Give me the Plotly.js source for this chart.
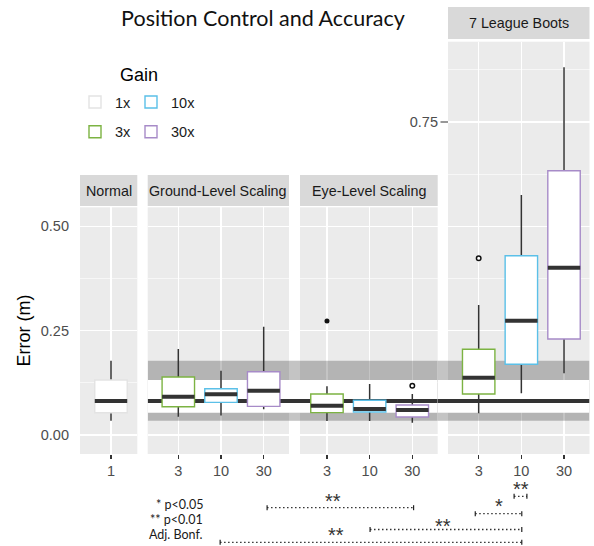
<!DOCTYPE html>
<html><head><meta charset="utf-8">
<script src="https://cdn.plot.ly/plotly-3.0.1.min.js"></script>
<style>html,body{margin:0;padding:0;background:#fff}</style>
</head><body><div id="chart" style="width:594px;height:546px"></div>
<script>
// ---------- data ----------
const panels = ['Normal', 'Ground-Level Scaling', 'Eye-Level Scaling', '7 League Boots'];
const panelCats = [['1'], ['3', '10', '30'], ['3', '10', '30'], ['3', '10', '30']];
const gains = ['1x', '3x', '10x', '30x'];
// one entry per box
const boxPanel = [0, 1, 1, 1, 2, 2, 2, 3, 3, 3];
const boxCat   = [0, 0, 1, 2, 0, 1, 2, 0, 1, 2];
const boxGain  = [0, 1, 2, 3, 1, 2, 3, 1, 2, 3];
const lowerW = [0.034, 0.044, 0.047, 0.0615, 0.0335, 0.0335, 0.0295, 0.052, 0.100, 0.148];
const q1     = [0.0534, 0.0678, 0.0783, 0.0687, 0.0535, 0.0551, 0.0431, 0.0983, 0.1694, 0.230];
const med    = [0.0815, 0.0918, 0.0975, 0.106, 0.0703, 0.0623, 0.060, 0.1374, 0.274, 0.401];
const q3     = [0.1318, 0.139, 0.111, 0.1517, 0.0983, 0.0831, 0.0719, 0.2054, 0.4297, 0.6334];
const upperW = [0.178, 0.206, 0.154, 0.2596, 0.1166, 0.122, 0.098, 0.3115, 0.575, 0.881];
// outliers
const outPanel = [2, 2, 3];
const outCat   = [0, 2, 0];
const outVal   = [0.273, 0.118, 0.4234];
// pairwise comparisons (panel, category position)
const compLabel = ['**', '**', '**', '*', '**'];
const compFrom  = [[1, 2.08], [2, 1.01], [1, 0.98], [3, -0.08], [3, 0.83]];
const compTo    = [[2, 2.03], [3, 1.01], [3, 1.01], [3, 1.01], [3, 1.13]];
const legendNotes = ['* p<0.05', '** p<0.01', 'Adj. Bonf.'];

// ---------- styles / geometry ----------
const W = 594, H = 546;
const gainColors = ['#e3e3e3', '#7cb342', '#5bc0e8', '#a78bc8'];
const outFilled = [true, false, false];
const panelX = [[80, 137.3], [147.7, 289], [300, 437.7], [448, 589.5]];
const panelTop = [207.3, 207.3, 207.3, 41.7];
const panelBottom = 454;
const stripY = [[175, 206], [175, 206], [175, 206], [7, 39]];
const xRanges = [[-0.726, 0.616], [-0.717, 2.593], [-0.632, 2.595], [-0.719, 2.597]];
const yPx0 = 435, yPxPerUnit = 417.3;
const compLineY = [507.7, 529.5, 542.3, 513.7, 496.3];
const compLabelX = [333, 443, 336, 499, 521];
const compLabelY = [497, 522, 531, 502, 485];
const px = x => x / W;
const py = y => 1 - y / H;
const sfx = i => (i === 0 ? '' : String(i + 1));
const catPx = (p, c) => panelX[p][0] + (c - xRanges[p][0]) / (xRanges[p][1] - xRanges[p][0]) * (panelX[p][1] - panelX[p][0]);

const tickFont = {family: 'Liberation Sans, Arial, sans-serif', size: 14.5, color: '#4d4d4d'};
const layout = {
  width: W, height: H, autosize: false,
  margin: {l: 0, r: 0, t: 0, b: 0},
  paper_bgcolor: '#ffffff', plot_bgcolor: '#ebebeb',
  boxmode: 'overlay',
  title: {text: 'Position Control and Accuracy', x: px(263), xanchor: 'center', xref: 'paper',
          y: py(18), yanchor: 'middle', yref: 'paper',
          font: {family: 'Lato, Open Sans, sans-serif', size: 21.5, color: '#111'}},
  legend: {x: px(75), xanchor: 'left', y: py(86), yanchor: 'top', bgcolor: 'rgba(0,0,0,0)',
           font: {family: 'Liberation Sans, Arial, sans-serif', size: 14.5, color: '#1a1a1a'}, tracegroupgap: 8},
  legend2: {x: px(131), xanchor: 'left', y: py(86), yanchor: 'top', bgcolor: 'rgba(0,0,0,0)',
            font: {family: 'Liberation Sans, Arial, sans-serif', size: 14.5, color: '#1a1a1a'}, tracegroupgap: 8},
  shapes: [], annotations: []
};

for (let i = 0; i < 4; i++) {
  const yr = [(yPx0 - panelBottom) / yPxPerUnit, (yPx0 - panelTop[i]) / yPxPerUnit];
  const majors = [0, 0.25, 0.5, 0.75].filter(v => v <= yr[1]);
  const minors = [0.125, 0.375, 0.625, 0.875].filter(v => v <= yr[1]);
  layout['xaxis' + sfx(i)] = {
    domain: [px(panelX[i][0]), px(panelX[i][1])], anchor: 'y' + sfx(i), range: xRanges[i],
    tickmode: 'array', tickvals: panelCats[i].map((c, k) => k), ticktext: panelCats[i],
    ticks: 'outside', ticklen: 4, tickwidth: 1.1, tickcolor: '#333', tickfont: tickFont,
    showgrid: true, gridcolor: '#ffffff', gridwidth: 1.2, zeroline: false, showline: false, fixedrange: true
  };
  let ticktext = majors.map(v => v.toFixed(2));
  if (i === 3) ticktext = majors.map(v => (v === 0.75 ? '0.75' : ''));
  layout['yaxis' + sfx(i)] = {
    domain: [py(panelBottom), py(panelTop[i])], anchor: 'x' + sfx(i), range: yr,
    tickmode: 'array', tickvals: majors, ticktext: ticktext, ticks: '',
    showticklabels: (i === 0 || i === 3), tickfont: tickFont, ticklabelstandoff: i === 0 ? 10 : 9,
    showgrid: true, gridcolor: '#ffffff', gridwidth: 1.2, zeroline: false, showline: false, fixedrange: true,
    minor: {tickmode: 'array', tickvals: minors, showgrid: true, gridcolor: '#ffffff', gridwidth: 0.6, ticks: ''}
  };
  // strip
  layout.shapes.push({type: 'rect', xref: 'paper', yref: 'paper', x0: px(panelX[i][0]), x1: px(panelX[i][1]),
    y0: py(stripY[i][1]), y1: py(stripY[i][0]), fillcolor: '#d9d9d9', line: {width: 0}, layer: 'below'});
  layout.annotations.push({text: panels[i], xref: 'paper', yref: 'paper', showarrow: false,
    x: px((panelX[i][0] + panelX[i][1]) / 2), y: py((stripY[i][0] + stripY[i][1]) / 2),
    xanchor: 'center', yanchor: 'middle',
    font: {family: 'Liberation Sans, Arial, sans-serif', size: 14.3, color: '#1a1a1a'}});
}

// reference band from the Normal condition (box 0) across the other panels
const bandGray = 'rgba(0,0,0,0.23)';
function band(xref, x0, x1, yref, layer) {
  layout.shapes.push({type: 'rect', xref, yref, x0, x1, y0: lowerW[0], y1: upperW[0], fillcolor: bandGray, line: {width: 0}, layer});
  layout.shapes.push({type: 'rect', xref, yref, x0, x1, y0: q1[0], y1: q3[0], fillcolor: '#ffffff', line: {width: 0}, layer});
  layout.shapes.push({type: 'line', xref, yref, x0, x1, y0: med[0], y1: med[0], line: {color: '#333333', width: 4}, layer});
}
for (let i = 1; i < 4; i++) band('x' + sfx(i), xRanges[i][0], xRanges[i][1], 'y' + sfx(i), 'between');
band('paper', px(panelX[1][1]), px(panelX[2][0]), 'y2', 'below');
band('paper', px(panelX[2][1]), px(panelX[3][0]), 'y2', 'below');

// single tick mark at 0.75 on the 7 League Boots axis
layout.shapes.push({type: 'line', xref: 'paper', yref: 'y4', x0: px(440.5), x1: px(448), y0: 0.75, y1: 0.75,
  line: {color: '#333', width: 1.1}, layer: 'below'});

// axis title and legend title
layout.annotations.push({text: 'Error (m)', xref: 'paper', yref: 'paper', x: px(23), y: py(330.5), showarrow: false,
  textangle: -90, xanchor: 'center', yanchor: 'middle', font: {family: 'Liberation Sans, Arial, sans-serif', size: 18, color: '#000'}});
layout.annotations.push({text: 'Gain', xref: 'paper', yref: 'paper', x: px(139), y: py(75), showarrow: false,
  xanchor: 'center', yanchor: 'middle', font: {family: 'Liberation Sans, Arial, sans-serif', size: 18, color: '#000'}});

// significance notes
legendNotes.forEach((t, k) => layout.annotations.push({text: t, xref: 'paper', yref: 'paper', x: px(204.5), y: py(504 + 15.3 * k),
  showarrow: false, xanchor: 'right', yanchor: 'middle', font: {family: 'Lato, sans-serif', size: 12.5, color: '#1a1a1a'}}));

compLabel.forEach((lab, k) => {
  const xa = catPx(compFrom[k][0], compFrom[k][1]);
  const xb = catPx(compTo[k][0], compTo[k][1]);
  const y = compLineY[k];
  layout.shapes.push({type: 'line', xref: 'paper', yref: 'paper', x0: px(xa), x1: px(xb), y0: py(y), y1: py(y),
    line: {color: '#222', width: 1.3, dash: '1.4px,2.6px'}});
  [xa, xb].forEach(xx => layout.shapes.push({type: 'line', xref: 'paper', yref: 'paper', x0: px(xx), x1: px(xx),
    y0: py(y - 2.5), y1: py(y + 2.5), line: {color: '#222', width: 1.2}}));
  layout.annotations.push({text: lab, xref: 'paper', yref: 'paper', x: px(compLabelX[k]), y: py(compLabelY[k] + 4),
    showarrow: false, xanchor: 'center', yanchor: 'middle',
    font: {family: 'Liberation Sans, Arial, sans-serif', size: 20, color: '#333'}});
});

// ---------- traces ----------
const traces = [];
const seenGain = {};
for (let k = 0; k < boxPanel.length; k++) {
  const p = boxPanel[k], g = boxGain[k];
  const common = {type: 'box', xaxis: 'x' + sfx(p), yaxis: 'y' + sfx(p), x: [boxCat[k]], width: 0.76,
    whiskerwidth: 0, boxpoints: false, hoverinfo: 'skip'};
  // whiskers (dark)
  traces.push(Object.assign({}, common, {q1: [med[k]], median: [med[k]], q3: [med[k]],
    lowerfence: [lowerW[k]], upperfence: [upperW[k]], line: {color: '#333333', width: 1.5},
    fillcolor: 'rgba(0,0,0,0)', showlegend: false}));
  // box (coloured by gain)
  const first = !seenGain[g]; seenGain[g] = true;
  traces.push(Object.assign({}, common, {q1: [q1[k]], median: [med[k]], q3: [q3[k]],
    lowerfence: [q1[k]], upperfence: [q3[k]], line: {color: gainColors[g], width: 1.4},
    fillcolor: '#ffffff', name: gains[g], showlegend: first, legendgroup: gains[g],
    legend: g === 0 || g === 1 ? 'legend' : 'legend2'}));
  // median (dark, thick)
  traces.push(Object.assign({}, common, {q1: [med[k]], median: [med[k]], q3: [med[k]],
    lowerfence: [med[k]], upperfence: [med[k]], line: {color: '#333333', width: 4},
    fillcolor: 'rgba(0,0,0,0)', showlegend: false}));
}
for (let k = 0; k < outVal.length; k++) {
  const p = outPanel[k];
  traces.push({type: 'scatter', mode: 'markers', xaxis: 'x' + sfx(p), yaxis: 'y' + sfx(p),
    x: [outCat[k]], y: [outVal[k]], showlegend: false, hoverinfo: 'skip',
    marker: outFilled[k] ? {symbol: 'circle', size: 5, color: '#111'}
                         : {symbol: 'circle', size: 4.5, color: '#ffffff', line: {color: '#111', width: 1.5}}});
}

Plotly.newPlot('chart', traces, layout, {displayModeBar: false, staticPlot: true});
</script>
</body></html>
